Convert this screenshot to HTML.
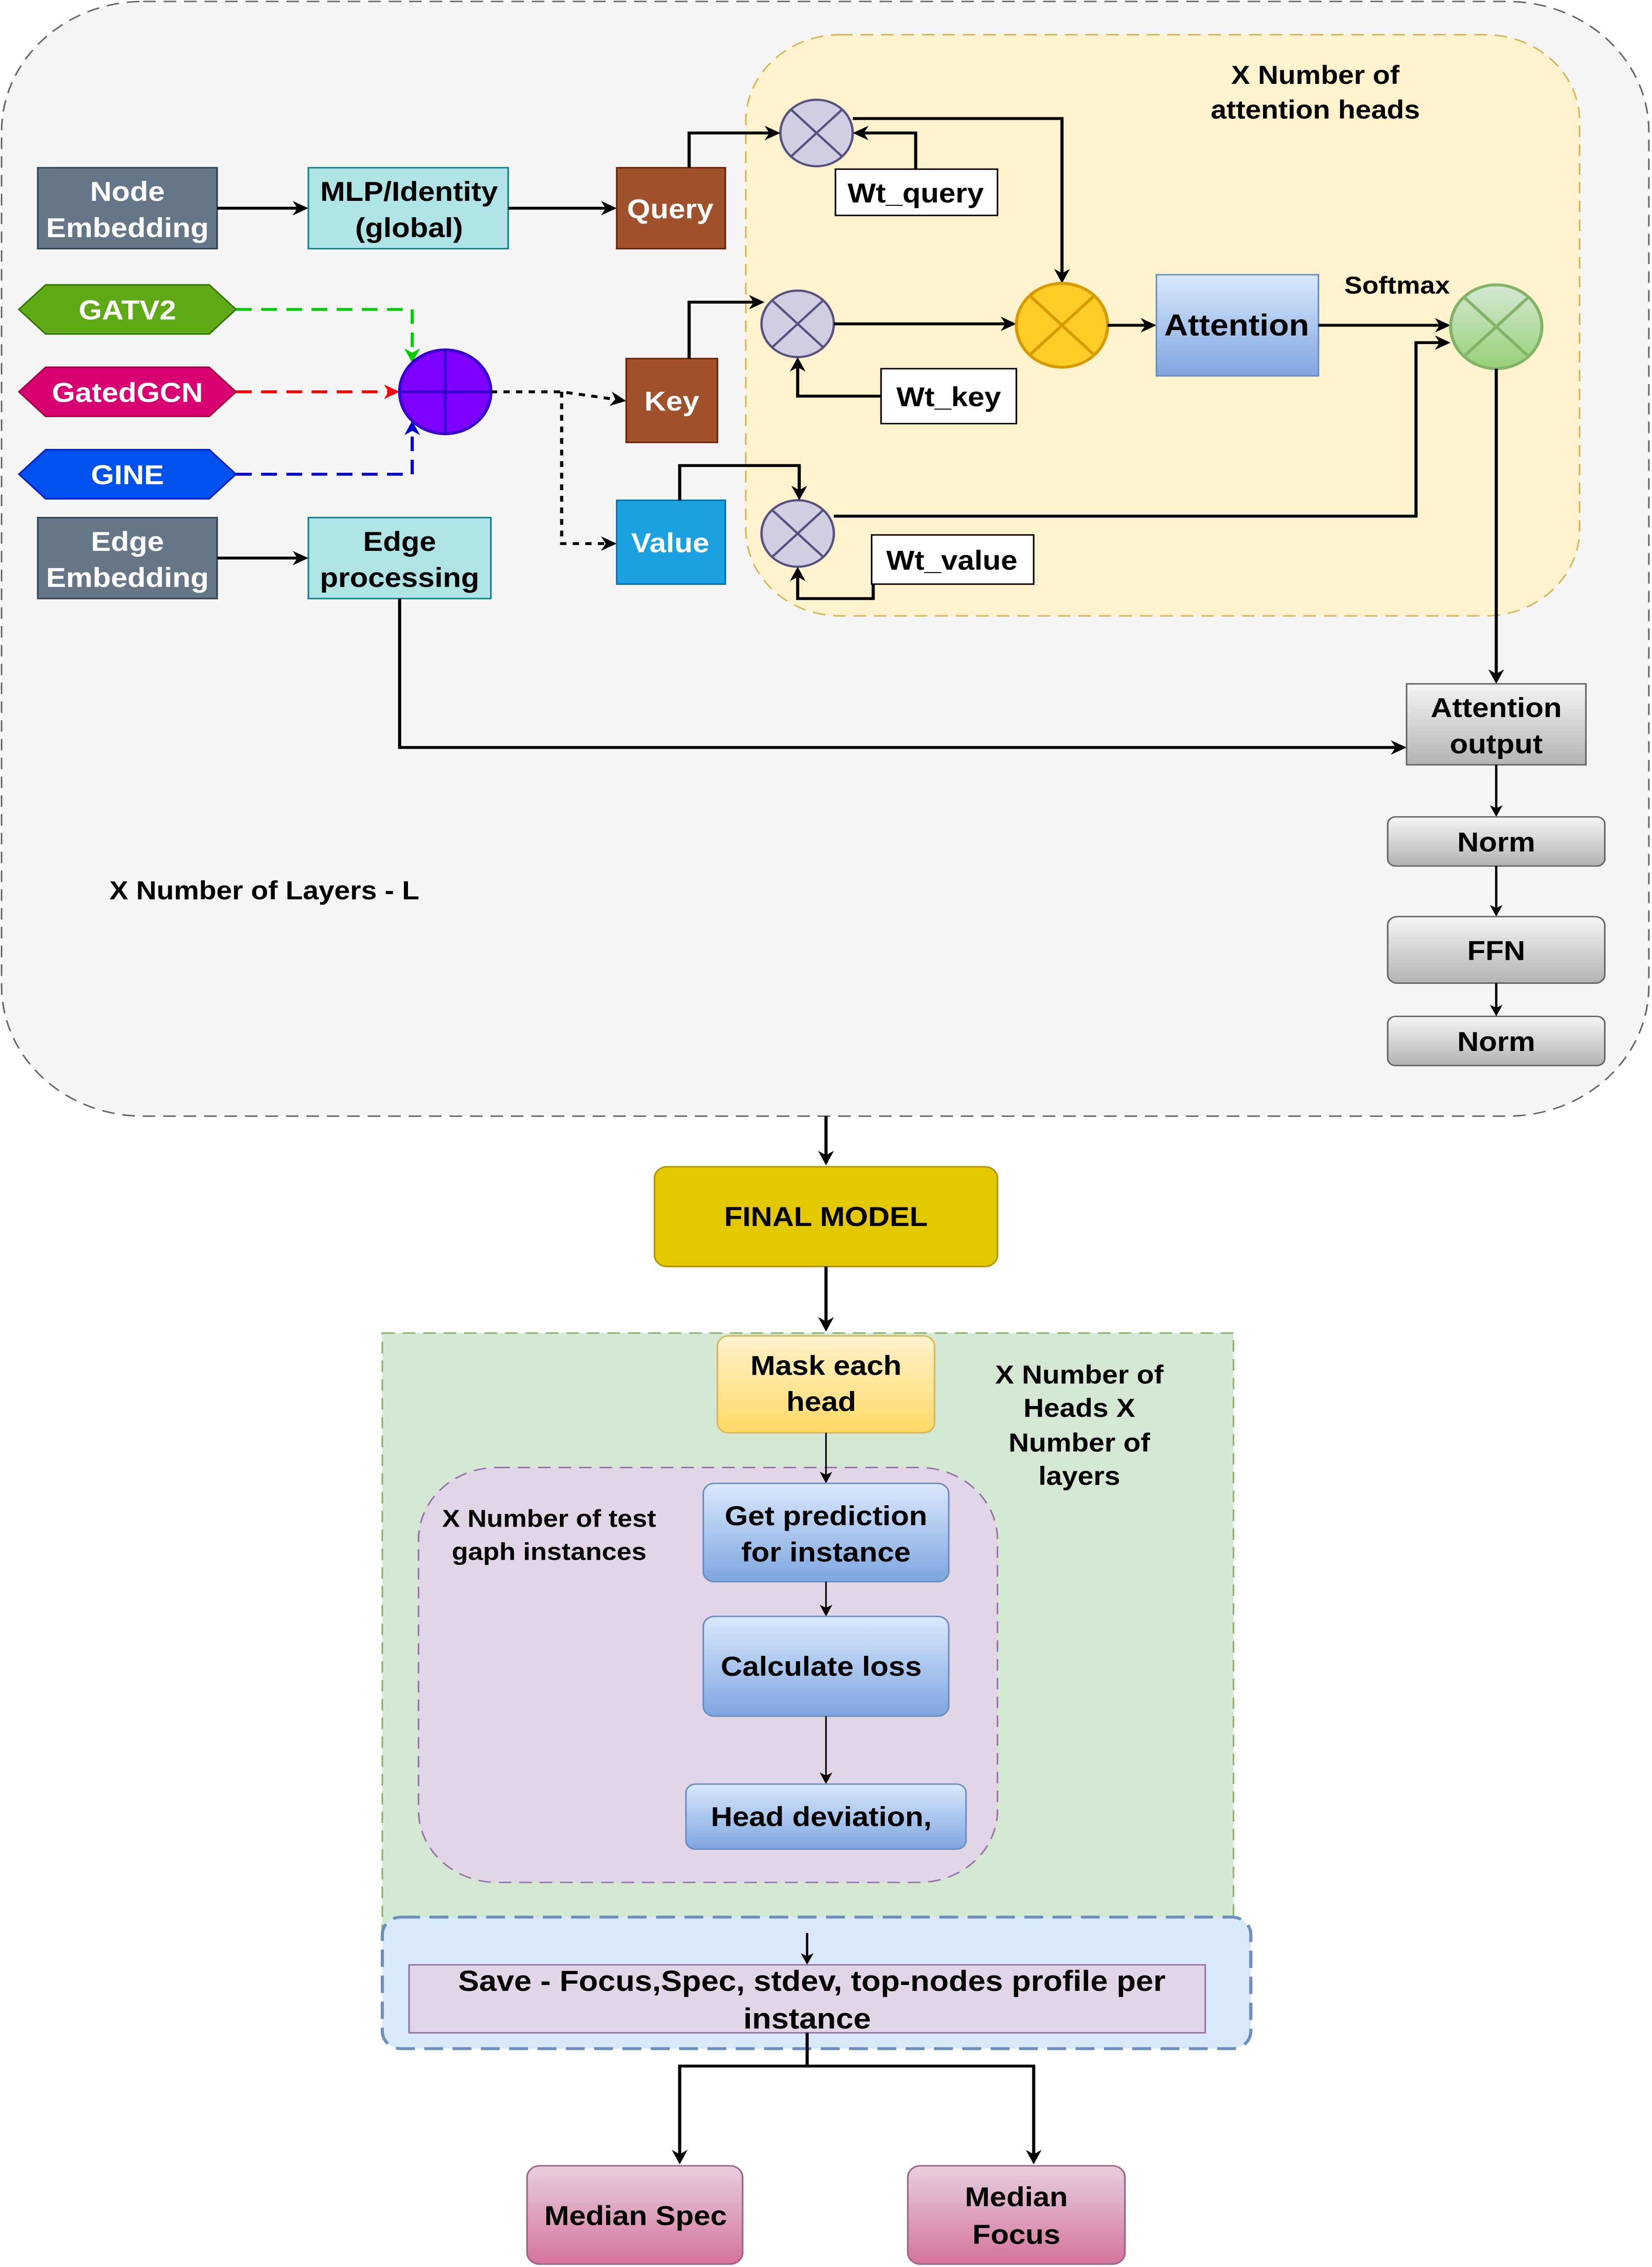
<!DOCTYPE html>
<html><head><meta charset="utf-8"><style>
html,body{margin:0;padding:0;background:#fff;overflow:hidden;width:100vw;height:100vh}
svg{display:block;position:absolute;left:0;top:0;width:100vw;height:100vh}
text{font-family:"Liberation Sans",Arial,sans-serif;font-weight:bold}
</style></head><body>
<svg viewBox="0 0 1050 1568" preserveAspectRatio="none" xmlns="http://www.w3.org/2000/svg">
<defs>
<marker id="a" markerWidth="10" markerHeight="10" refX="8" refY="5" orient="auto" markerUnits="userSpaceOnUse"><path d="M0,0 L10,5 L0,10 L3,5 z" fill="#000"/></marker>
<marker id="ag" markerWidth="10" markerHeight="10" refX="8" refY="5" orient="auto" markerUnits="userSpaceOnUse"><path d="M0,0 L10,5 L0,10 L3,5 z" fill="#00cc00"/></marker>
<marker id="ar" markerWidth="10" markerHeight="10" refX="8" refY="5" orient="auto" markerUnits="userSpaceOnUse"><path d="M0,0 L10,5 L0,10 L3,5 z" fill="#ff0000"/></marker>
<marker id="ab" markerWidth="10" markerHeight="10" refX="8" refY="5" orient="auto" markerUnits="userSpaceOnUse"><path d="M0,0 L10,5 L0,10 L3,5 z" fill="#0000cc"/></marker>
<marker id="s" markerWidth="8" markerHeight="8" refX="6" refY="4" orient="auto" markerUnits="userSpaceOnUse"><path d="M0,0 L8,4 L0,8 L2,4 z" fill="#000"/></marker>
<linearGradient id="gb" x1="0" y1="0" x2="0" y2="1"><stop offset="0" stop-color="#dae8fc"/><stop offset="1" stop-color="#7ea6e0"/></linearGradient>
<linearGradient id="gg" x1="0" y1="0" x2="0" y2="1"><stop offset="0" stop-color="#f5f5f5"/><stop offset="1" stop-color="#b3b3b3"/></linearGradient>
<linearGradient id="gy" x1="0" y1="0" x2="0" y2="1"><stop offset="0" stop-color="#fff2cc"/><stop offset="1" stop-color="#ffd966"/></linearGradient>
<linearGradient id="gp" x1="0" y1="0" x2="0" y2="1"><stop offset="0" stop-color="#e6d0de"/><stop offset="1" stop-color="#d5739d"/></linearGradient>
<linearGradient id="gn" x1="0" y1="0" x2="0" y2="1"><stop offset="0" stop-color="#d5e8d4"/><stop offset="1" stop-color="#97d077"/></linearGradient>
</defs>

<rect x="1" y="1" width="1047" height="771" rx="90" fill="#f5f5f5" stroke="#666" stroke-dasharray="8,5"/>
<rect x="474" y="24" width="530" height="402" rx="60" fill="#fff2cc" stroke="#d6b656" stroke-dasharray="8,5"/>
<text x="836" y="58" font-size="18" text-anchor="middle">X Number of</text>
<text x="836" y="82" font-size="18" text-anchor="middle">attention heads</text>

<rect x="24" y="116" width="114" height="56" fill="#647687" stroke="#314354"/>
<text x="81" y="139" font-size="19" fill="#fff" text-anchor="middle">Node</text>
<text x="81" y="164" font-size="19" fill="#fff" text-anchor="middle">Embedding</text>
<rect x="196" y="116" width="127" height="56" fill="#b0e3e6" stroke="#0e8088"/>
<text x="260" y="139" font-size="19" text-anchor="middle">MLP/Identity</text>
<text x="260" y="164" font-size="19" text-anchor="middle">(global)</text>
<rect x="392" y="116" width="69" height="56" fill="#a0522d" stroke="#6d1f00"/>
<text x="426" y="151" font-size="19" fill="#fff" text-anchor="middle">Query</text>
<line x1="138" y1="144" x2="194" y2="144" stroke="#000" stroke-width="2" marker-end="url(#a)"/>
<line x1="323" y1="144" x2="390" y2="144" stroke="#000" stroke-width="2" marker-end="url(#a)"/>

<polygon points="12,214 29,197 133,197 150,214 133,231 29,231" fill="#60a917" stroke="#2d7600"/>
<text x="81" y="221" font-size="19" fill="#fff" text-anchor="middle">GATV2</text>
<polygon points="12,271 29,254 133,254 150,271 133,288 29,288" fill="#d80073" stroke="#a50040"/>
<text x="81" y="278" font-size="19" fill="#fff" text-anchor="middle">GatedGCN</text>
<polygon points="12,328 29,311 133,311 150,328 133,345 29,345" fill="#0050ef" stroke="#001dbc"/>
<text x="81" y="335" font-size="19" fill="#fff" text-anchor="middle">GINE</text>
<path d="M150,214 H262 V249" fill="none" stroke="#00cc00" stroke-width="2" stroke-dasharray="10,6" marker-end="url(#ag)"/>
<path d="M150,271 H252" fill="none" stroke="#ff0000" stroke-width="2" stroke-dasharray="10,6" marker-end="url(#ar)"/>
<path d="M150,328 H262 V293" fill="none" stroke="#0000cc" stroke-width="2" stroke-dasharray="10,6" marker-end="url(#ab)"/>
<circle cx="283" cy="271" r="29" fill="#7f00ff" stroke="#3700cc" stroke-width="2"/>
<line x1="254" y1="271" x2="312" y2="271" stroke="#3700cc" stroke-width="2"/>
<line x1="283" y1="242" x2="283" y2="300" stroke="#3700cc" stroke-width="2"/>
<path d="M312,271 H357 L396,277" fill="none" stroke="#000" stroke-width="2" stroke-dasharray="4,4" marker-end="url(#a)"/>
<path d="M357,271 V376 H390" fill="none" stroke="#000" stroke-width="2" stroke-dasharray="4,4" marker-end="url(#a)"/>

<rect x="398" y="248" width="58" height="58" fill="#a0522d" stroke="#6d1f00"/>
<text x="427" y="284" font-size="19" fill="#fff" text-anchor="middle">Key</text>
<rect x="392" y="346" width="69" height="58" fill="#1ba1e2" stroke="#006eaf"/>
<text x="426" y="382" font-size="19" fill="#fff" text-anchor="middle">Value</text>

<rect x="24" y="358" width="114" height="56" fill="#647687" stroke="#314354"/>
<text x="81" y="381" font-size="19" fill="#fff" text-anchor="middle">Edge</text>
<text x="81" y="406" font-size="19" fill="#fff" text-anchor="middle">Embedding</text>
<rect x="196" y="358" width="116" height="56" fill="#b0e3e6" stroke="#0e8088"/>
<text x="254" y="381" font-size="19" text-anchor="middle">Edge</text>
<text x="254" y="406" font-size="19" text-anchor="middle">processing</text>
<line x1="138" y1="386" x2="194" y2="386" stroke="#000" stroke-width="2" marker-end="url(#a)"/>
<path d="M254,414 V517 H892" fill="none" stroke="#000" stroke-width="2" marker-end="url(#a)"/>

<g stroke="#56517e" stroke-width="1.5">
<circle cx="519" cy="92" r="23" fill="#d0cee2"/><line x1="503" y1="76" x2="535" y2="108"/><line x1="535" y1="76" x2="503" y2="108"/>
<circle cx="507" cy="224" r="23" fill="#d0cee2"/><line x1="491" y1="208" x2="523" y2="240"/><line x1="523" y1="208" x2="491" y2="240"/>
<circle cx="507" cy="369" r="23" fill="#d0cee2"/><line x1="491" y1="353" x2="523" y2="385"/><line x1="523" y1="353" x2="491" y2="385"/>
</g>
<rect x="531" y="117" width="103" height="32" fill="#fff" stroke="#000"/>
<text x="582" y="140" font-size="19" text-anchor="middle">Wt_query</text>
<rect x="560" y="255" width="86" height="38" fill="#fff" stroke="#000"/>
<text x="603" y="281" font-size="19" text-anchor="middle">Wt_key</text>
<rect x="554" y="370" width="103" height="34" fill="#fff" stroke="#000"/>
<text x="605" y="394" font-size="19" text-anchor="middle">Wt_value</text>

<path d="M438,116 V92 H494" fill="none" stroke="#000" stroke-width="2" marker-end="url(#a)"/>
<path d="M582,117 V92 H544" fill="none" stroke="#000" stroke-width="2" marker-end="url(#a)"/>
<path d="M542,82 H675 V194" fill="none" stroke="#000" stroke-width="2" marker-end="url(#a)"/>
<path d="M438,248 V209 H484" fill="none" stroke="#000" stroke-width="2" marker-end="url(#a)"/>
<path d="M560,274 H507 V249" fill="none" stroke="#000" stroke-width="2" marker-end="url(#a)"/>
<line x1="530" y1="224" x2="644" y2="224" stroke="#000" stroke-width="2" marker-end="url(#a)"/>
<path d="M432,346 V322 H508 V344" fill="none" stroke="#000" stroke-width="2" marker-end="url(#a)"/>
<path d="M555,404 V414 H507 V394" fill="none" stroke="#000" stroke-width="2" marker-end="url(#a)"/>
<path d="M530,357 H900 V237 H920" fill="none" stroke="#000" stroke-width="2" marker-end="url(#a)"/>

<circle cx="675" cy="225" r="29" fill="#ffcd28" stroke="#d79b00" stroke-width="2"/>
<line x1="654" y1="204" x2="696" y2="246" stroke="#d79b00" stroke-width="2"/><line x1="696" y1="204" x2="654" y2="246" stroke="#d79b00" stroke-width="2"/>
<line x1="704" y1="225" x2="733" y2="225" stroke="#000" stroke-width="2" marker-end="url(#a)"/>
<rect x="735" y="190" width="103" height="70" fill="url(#gb)" stroke="#6c8ebf"/>
<text x="786" y="232" font-size="21" text-anchor="middle">Attention</text>
<line x1="838" y1="225" x2="920" y2="225" stroke="#000" stroke-width="2" marker-end="url(#a)"/>
<text x="888" y="203" font-size="17" text-anchor="middle">Softmax</text>
<circle cx="951" cy="226" r="29" fill="url(#gn)" stroke="#82b366" stroke-width="2"/>
<line x1="930" y1="205" x2="972" y2="247" stroke="#82b366" stroke-width="2"/><line x1="972" y1="205" x2="930" y2="247" stroke="#82b366" stroke-width="2"/>
<line x1="951" y1="255" x2="951" y2="471" stroke="#000" stroke-width="2" marker-end="url(#a)"/>

<rect x="894" y="473" width="114" height="56" fill="url(#gg)" stroke="#666"/>
<text x="951" y="496" font-size="19" text-anchor="middle">Attention</text>
<text x="951" y="521" font-size="19" text-anchor="middle">output</text>
<line x1="951" y1="529" x2="951" y2="563" stroke="#000" stroke-width="1.5" marker-end="url(#s)"/>
<rect x="882" y="565" width="138" height="34" rx="5" fill="url(#gg)" stroke="#666"/>
<text x="951" y="589" font-size="19" text-anchor="middle">Norm</text>
<line x1="951" y1="599" x2="951" y2="632" stroke="#000" stroke-width="1.5" marker-end="url(#s)"/>
<rect x="882" y="634" width="138" height="46" rx="6" fill="url(#gg)" stroke="#666"/>
<text x="951" y="664" font-size="19" text-anchor="middle">FFN</text>
<line x1="951" y1="680" x2="951" y2="701" stroke="#000" stroke-width="1.5" marker-end="url(#s)"/>
<rect x="882" y="703" width="138" height="34" rx="5" fill="url(#gg)" stroke="#666"/>
<text x="951" y="727" font-size="19" text-anchor="middle">Norm</text>

<text x="168" y="622" font-size="18" text-anchor="middle">X Number of Layers - L</text>

<line x1="525" y1="772" x2="525" y2="804" stroke="#000" stroke-width="2" marker-end="url(#a)"/>
<rect x="416" y="807" width="218" height="69" rx="8" fill="#e3c800" stroke="#b09500"/>
<text x="525" y="848" font-size="19" text-anchor="middle">FINAL MODEL</text>
<line x1="525" y1="876" x2="525" y2="919" stroke="#000" stroke-width="2" marker-end="url(#a)"/>

<rect x="243" y="922" width="541" height="415" fill="#d5e8d4" stroke="#82b366" stroke-dasharray="8,5"/>
<rect x="456" y="924" width="138" height="67" rx="7" fill="url(#gy)" stroke="#d6b656"/>
<text x="525" y="951" font-size="19" text-anchor="middle">Mask each</text>
<text x="522" y="976" font-size="19" text-anchor="middle">head</text>
<text x="686" y="957" font-size="18" text-anchor="middle">X Number of</text>
<text x="686" y="980" font-size="18" text-anchor="middle">Heads X</text>
<text x="686" y="1004" font-size="18" text-anchor="middle">Number of</text>
<text x="686" y="1027" font-size="18" text-anchor="middle">layers</text>

<rect x="266" y="1015" width="368" height="287" rx="50" fill="#e1d5e7" stroke="#9673a6" stroke-dasharray="8,5"/>
<line x1="525" y1="991" x2="525" y2="1024" stroke="#000" stroke-width="1" marker-end="url(#s)"/>
<text x="349" y="1056" font-size="17" text-anchor="middle">X Number of  test</text>
<text x="349" y="1079" font-size="17" text-anchor="middle">gaph instances</text>
<rect x="447" y="1026" width="156" height="68" rx="7" fill="url(#gb)" stroke="#6c8ebf"/>
<text x="525" y="1055" font-size="19" text-anchor="middle">Get prediction</text>
<text x="525" y="1080" font-size="19" text-anchor="middle">for instance</text>
<line x1="525" y1="1094" x2="525" y2="1116" stroke="#000" stroke-width="1" marker-end="url(#s)"/>
<rect x="447" y="1118" width="156" height="69" rx="7" fill="url(#gb)" stroke="#6c8ebf"/>
<text x="522" y="1159" font-size="19" text-anchor="middle">Calculate loss</text>
<line x1="525" y1="1187" x2="525" y2="1232" stroke="#000" stroke-width="1" marker-end="url(#s)"/>
<rect x="436" y="1234" width="178" height="45" rx="6" fill="url(#gb)" stroke="#6c8ebf"/>
<text x="522" y="1263" font-size="19" text-anchor="middle">Head deviation,</text>

<rect x="243" y="1326" width="552" height="91" rx="12" fill="#dae8fc" stroke="#6c8ebf" stroke-width="2" stroke-dasharray="12,6"/>
<line x1="513" y1="1337" x2="513" y2="1357" stroke="#000" stroke-width="1.5" marker-end="url(#s)"/>
<rect x="260" y="1359" width="506" height="47" fill="#e1d5e7" stroke="#9673a6"/>
<text x="516" y="1377" font-size="20" text-anchor="middle">Save - Focus,Spec, stdev, top-nodes profile per</text>
<text x="513" y="1403" font-size="20" text-anchor="middle">instance</text>
<path d="M513,1406 V1429 H432 V1495" fill="none" stroke="#000" stroke-width="2" marker-end="url(#a)"/>
<path d="M513,1429 H657 V1495" fill="none" stroke="#000" stroke-width="2" marker-end="url(#a)"/>
<rect x="335" y="1498" width="137" height="68" rx="8" fill="url(#gp)" stroke="#996185"/>
<text x="404" y="1539" font-size="19" text-anchor="middle">Median Spec</text>
<rect x="577" y="1498" width="138" height="68" rx="8" fill="url(#gp)" stroke="#996185"/>
<text x="646" y="1526" font-size="19" text-anchor="middle">Median</text>
<text x="646" y="1552" font-size="19" text-anchor="middle">Focus</text>
</svg>
</body></html>
